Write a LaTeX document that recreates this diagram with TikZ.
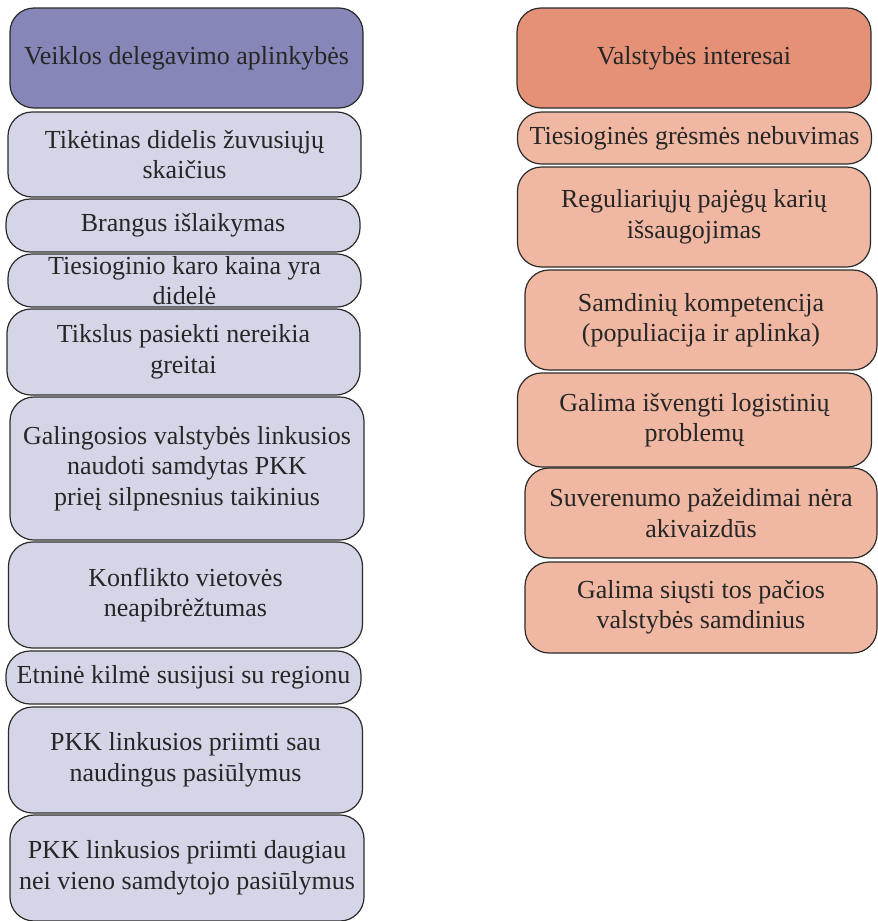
\documentclass[tikz,border=0pt]{standalone}
\usepackage{fontspec}
\setmainfont{Liberation Serif}

\definecolor{headblue}{HTML}{8686B9}
\definecolor{itemblue}{HTML}{D5D5E8}
\definecolor{headred}{HTML}{E59177}
\definecolor{itemred}{HTML}{F0B8A2}
\definecolor{edgegray}{HTML}{2B2B2B}

\begin{document}
\begin{tikzpicture}[x=1pt, y=-1pt,
		box/.style = {draw=edgegray, line width=1.2pt, rounded corners=24pt, align=center, inner sep=0pt,
			font=\fontsize{26}{30.5}\selectfont, text=black!85},
		lefthead/.style = {box, fill=headblue},
		leftitem/.style = {box, fill=itemblue},
		righthead/.style = {box, fill=headred},
		rightitem/.style = {box, fill=itemred}]
		\useasboundingbox (0,0) rectangle (878,921);

		% left column
		\node[lefthead, minimum width=353pt, minimum height=100pt] (L0) at (186.5,58) {Veiklos delegavimo aplinkybės};
		\node[leftitem, minimum width=353pt, minimum height=85pt] (L1) at (184.5,154.5) {Tikėtinas didelis žuvusiųjų\\skaičius};
		\node[leftitem, minimum width=354pt, minimum height=53pt] (L2) at (183,225.5) {Brangus išlaikymas};
		\node[leftitem, minimum width=353pt, minimum height=53pt] (L3) at (184.5,280.5) {Tiesioginio karo kaina yra\\didelė};
		\node[leftitem, minimum width=353pt, minimum height=86pt] (L4) at (183.5,352) {Tikslus pasiekti nereikia\\greitai};
		\node[leftitem, minimum width=354pt, minimum height=143pt] (L5) at (187,468.5) {Galingosios valstybės linkusios\\naudoti samdytas PKK\\prieį silpnesnius taikinius};
		\node[leftitem, minimum width=354pt, minimum height=106pt] (L6) at (185.5,595) {Konflikto vietovės\\neapibrėžtumas};
		\node[leftitem, minimum width=355pt, minimum height=53pt] (L7) at (183.5,677.5) {Etninė kilmė susijusi su regionu};
		\node[leftitem, minimum width=354pt, minimum height=106pt] (L8) at (185.5,760) {PKK linkusios priimti sau\\naudingus pasiūlymus};
		\node[leftitem, minimum width=354pt, minimum height=106pt] (L9) at (187,868) {PKK linkusios priimti daugiau\\nei vieno samdytojo pasiūlymus};

		% right column
		\node[righthead, minimum width=354pt, minimum height=100pt] (R0) at (694,58) {Valstybės interesai};
		\node[rightitem, minimum width=354pt, minimum height=52pt] (R1) at (694.5,138) {Tiesioginės grėsmės nebuvimas};
		\node[rightitem, minimum width=353pt, minimum height=100pt] (R2) at (694,217) {Reguliariųjų pajėgų karių\\išsaugojimas};
		\node[rightitem, minimum width=352pt, minimum height=100pt] (R3) at (701,320) {Samdinių kompetencija\\(populiacija ir aplinka)};
		\node[rightitem, minimum width=354pt, minimum height=94pt] (R4) at (694.5,420) {Galima išvengti logistinių\\problemų};
		\node[rightitem, minimum width=352pt, minimum height=90pt] (R5) at (701,513) {Suverenumo pažeidimai nėra\\akivaizdūs};
		\node[rightitem, minimum width=352pt, minimum height=91pt] (R6) at (701,607.5) {Galima siųsti tos pačios\\valstybės samdinius};
	\end{tikzpicture}
\end{document}
